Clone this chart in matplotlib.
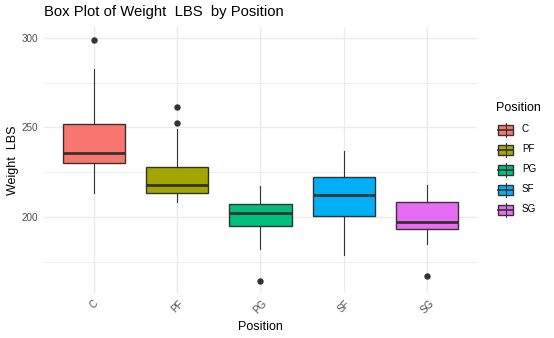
import numpy as np
import matplotlib as mpl
mpl.use("Agg")
import matplotlib.pyplot as plt
from matplotlib.patches import Rectangle

mpl.rcParams.update({"font.family": ["Liberation Sans", "DejaVu Sans"]})

# --- weight (lbs) summary per position --------------------------------------
positions = ["C", "PF", "PG", "SF", "SG"]
whislo = [213.6, 208.4, 182.0, 178.6, 185.1]
q1 = [230.2, 213.2, 195.1, 200.7, 193.5]
med = [235.8, 217.7, 202.2, 212.3, 197.2]
q3 = [251.8, 228.1, 207.4, 222.2, 208.2]
whishi = [282.7, 249.0, 217.2, 236.9, 217.9]
fliers = [[299.0], [252.3, 261.3], [164.2], [], [167.2]]
colors = ["#F8766D", "#A3A500", "#00BF7D", "#00B0F6", "#E76BF3"]

EDGE, GRID, TICK = "#333333", "#EBEBEB", "#4D4D4D"
TXT, LAB, TTL = 7.1, 9.0, 10.7

fig = plt.figure(figsize=(5.54, 3.38), dpi=100)
ax = fig.add_axes([0.0794, 0.1331, 0.7816, 0.7869])

stats = [dict(whislo=lo, q1=a, med=m, q3=b, whishi=hi, fliers=f)
         for lo, a, m, b, hi, f in zip(whislo, q1, med, q3, whishi, fliers)]
x = np.arange(1, len(positions) + 1)
bp = ax.bxp(stats, positions=x, widths=0.75, patch_artist=True, showcaps=False,
            boxprops=dict(edgecolor=EDGE, linewidth=1.0),
            medianprops=dict(color=EDGE, linewidth=2.0),
            whiskerprops=dict(color=EDGE, linewidth=0.8),
            flierprops=dict(marker="o", markersize=3.6, markerfacecolor=EDGE,
                            markeredgecolor=EDGE))
for box, c in zip(bp["boxes"], colors):
    box.set_facecolor(c)
for art in bp["boxes"] + bp["whiskers"] + bp["medians"] + bp["fliers"]:
    art.set_zorder(3)

ax.set_xlim(0.4, 5.6)
ax.set_ylim(157.5, 306.0)
ax.set_yticks([200, 250, 300])
ax.set_yticks([175, 225, 275], minor=True)
ax.set_xticks(x)
ax.set_xticklabels(positions, rotation=45, ha="center", va="top")
ax.grid(which="major", color=GRID, lw=1.0, zorder=0)
ax.grid(which="minor", axis="y", color=GRID, lw=0.6, zorder=0)
ax.set_axisbelow(True)
for s in ax.spines.values():
    s.set_visible(False)
ax.tick_params(which="both", length=0, colors=TICK, labelsize=TXT, pad=4)
ax.set_xlabel("Position", fontsize=LAB, color="black", labelpad=4)
ax.set_ylabel("Weight  LBS", fontsize=LAB, color="black", labelpad=2)
ax.set_title("Box Plot of Weight  LBS  by Position", fontsize=TTL, loc="left",
             color="black", pad=8)

# legend keys drawn in figure pixel space
fig.text(496 / 554, 1 - 108 / 338, "Position", fontsize=LAB, va="center", ha="left")
lg = fig.add_axes([0, 0, 1, 1], facecolor="none")
lg.set_xlim(0, 554); lg.set_ylim(338, 0); lg.axis("off")
for i, (p, c) in enumerate(zip(positions, colors)):
    yc = 129.5 + 20 * i
    lg.plot([506, 506], [yc - 7, yc + 7], color=EDGE, lw=0.8)
    lg.add_patch(Rectangle((498, yc - 5), 15, 10, facecolor=c, edgecolor=EDGE, lw=1.0))
    lg.plot([498, 513], [yc, yc], color=EDGE, lw=1.2)
    lg.text(522, yc, p, fontsize=TXT, va="center", ha="left", color="black")

fig.savefig("out.png", dpi=100, facecolor="white")
